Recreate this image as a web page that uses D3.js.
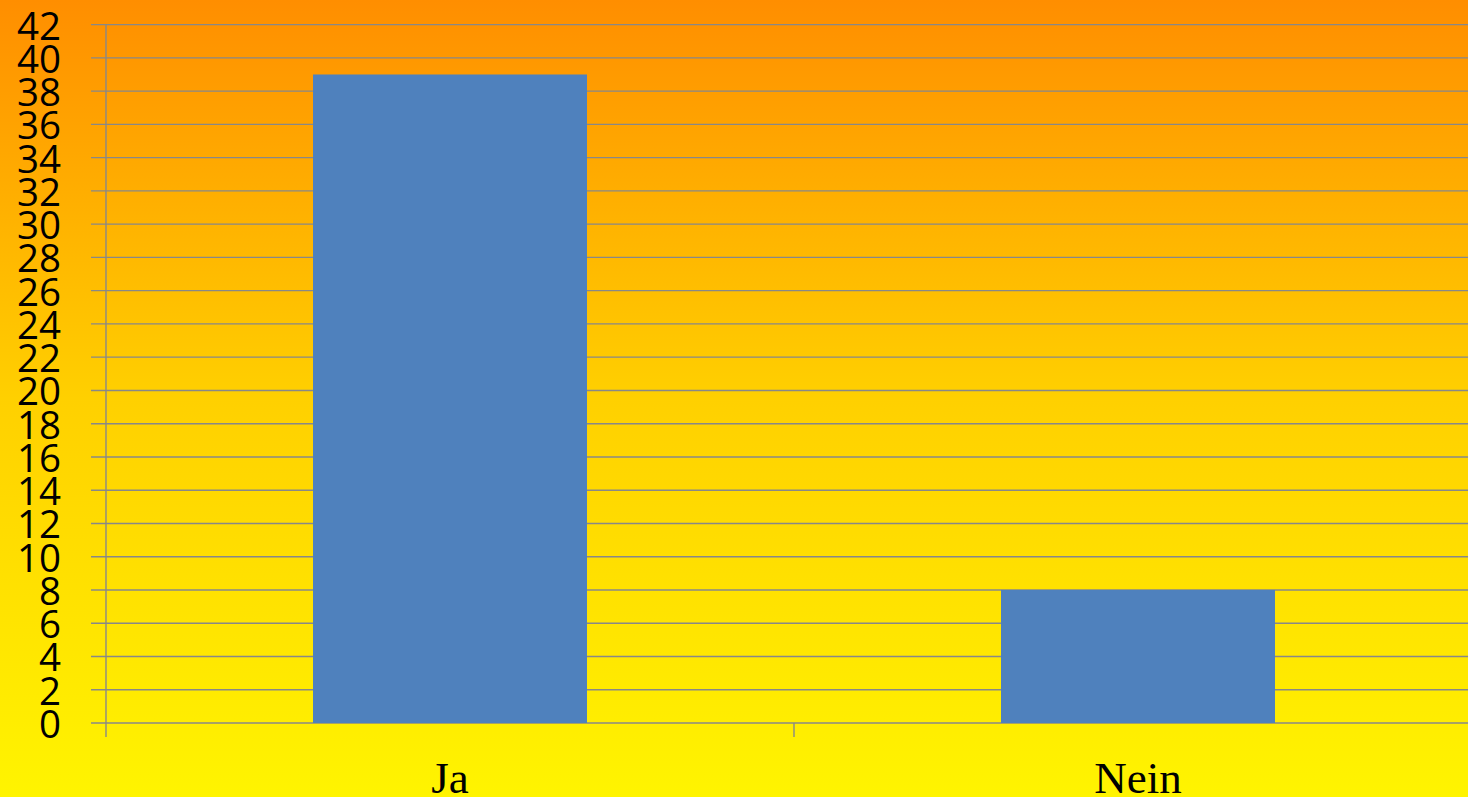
<!DOCTYPE html>
<html><head><meta charset="utf-8">
<script src="https://cdn.jsdelivr.net/npm/d3@7"></script>
<style>html,body{margin:0;padding:0;overflow:hidden;}svg{display:block;}</style>
</head><body>
<script>
const categories = ["Ja", "Nein"];
const values = [39, 8];
const yTicks = d3.range(0, 43, 2);

const W = 1468, H = 797;
const svg = d3.select("body").append("svg").attr("width", W).attr("height", H);

const defs = svg.append("defs");
const grad = defs.append("linearGradient").attr("id", "bg").attr("x1", 0).attr("y1", 0).attr("x2", 0).attr("y2", 1);
grad.append("stop").attr("offset", "0%").attr("stop-color", "#FF8E00");
grad.append("stop").attr("offset", "50%").attr("stop-color", "#FFD000");
grad.append("stop").attr("offset", "100%").attr("stop-color", "#FFF400");
svg.append("rect").attr("width", W).attr("height", H).attr("fill", "url(#bg)");

const x0 = 106, yTop = 24.6, yBot = 723;
const x = d3.scaleBand().domain(categories).range([x0, x0 + 688 * 2]).paddingInner(0).paddingOuter(0);
const y = d3.scaleLinear().domain([0, 42]).range([yBot, yTop]);
const barW = 274;

// gridlines
svg.append("g").selectAll("line").data(yTicks).join("line")
  .attr("x1", 91).attr("x2", W).attr("y1", d => y(d)).attr("y2", d => y(d))
  .attr("stroke", "#888888").attr("stroke-width", 1.4);

// bars
svg.append("g").selectAll("rect").data(values).join("rect")
  .attr("x", (d, i) => x(categories[i]) + x.bandwidth() / 2 - barW / 2)
  .attr("width", barW)
  .attr("y", d => y(d))
  .attr("height", d => y(0) - y(d))
  .attr("fill", "#4F81BD");

// y axis line
svg.append("line").attr("x1", x0).attr("x2", x0).attr("y1", yTop).attr("y2", 737)
  .attr("stroke", "#888888").attr("stroke-width", 1.4);
// x axis category ticks
svg.append("g").selectAll("line").data(categories.slice(1)).join("line")
  .attr("x1", d => x(d)).attr("x2", d => x(d)).attr("y1", yBot).attr("y2", 737)
  .attr("stroke", "#888888").attr("stroke-width", 1.4);

// y labels
svg.append("g").selectAll("text").data(yTicks).join("text")
  .attr("x", 61).attr("y", d => y(d))
  .attr("text-anchor", "end").attr("dominant-baseline", "central")
  .attr("font-family", "'Open Sans', sans-serif").attr("font-size", 38.5)
  .attr("fill", "#000").text(d => d);

// x labels
svg.append("g").selectAll("text").data(categories).join("text")
  .attr("x", d => x(d) + x.bandwidth() / 2).attr("y", 793)
  .attr("text-anchor", "middle")
  .attr("font-family", "'Liberation Serif', 'Times New Roman', serif").attr("font-size", 45)
  .attr("fill", "#000").text(d => d);
</script>
</body></html>
